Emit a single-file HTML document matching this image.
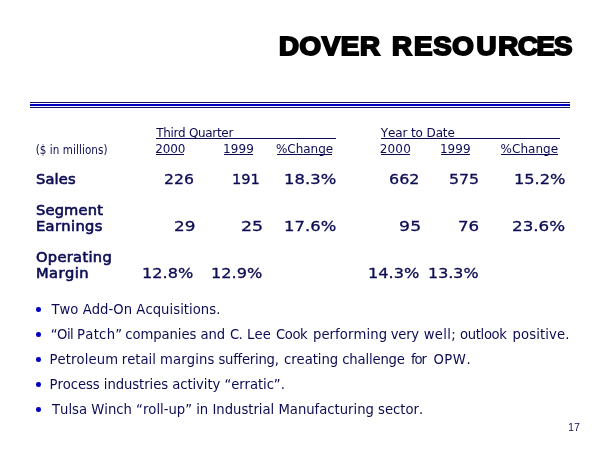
<!DOCTYPE html><html><head><meta charset="utf-8"><title>Dover Resources</title><style>
html,body{margin:0;padding:0;background:#fff}
#s{position:relative;width:600px;height:450px;overflow:hidden;background:#fff;color:#0c0c54}
#s .w span{position:absolute;top:0}
#s div{position:absolute;white-space:nowrap;line-height:1;font-kerning:none !important}
.t{font:700 25.4px/1 'Liberation Sans',sans-serif;color:#000;-webkit-text-stroke:1.9px #000;transform:scaleX(1.088);transform-origin:0 0;word-spacing:3px;letter-spacing:0.6px}
.u{height:1px;background:#0c0c54}
.k{width:4.6px;height:4.6px;border-radius:50%;background:#0000c0}
</style></head><body><div id="s">
<div class="t" id="title" style="left:278.85px;top:34px">DOVER R<span style="margin-left:1.3px">E</span>SO<span style="margin-left:1.8px">U</span><span style="margin-left:1.2px">R</span><span style="margin-left:-0.9px">C</span><span style="margin-left:-1.9px">E</span><span style="margin-left:-1.4px">S</span></div>
<div style="left:30px;top:102px;width:540px;height:1px;background:#14145c"></div>
<div style="left:30px;top:104px;width:540px;height:2px;background:#0000c0"></div>
<div style="left:30px;top:107px;width:540px;height:1px;background:#14145c"></div>
<div class="u" style="left:156px;top:138px;width:180px"></div>
<div class="u" style="left:381px;top:138px;width:179px"></div>
<div class="u" style="left:156px;top:154px;width:28px"></div>
<div class="u" style="left:224px;top:154px;width:29px"></div>
<div class="u" style="left:277px;top:154px;width:55px"></div>
<div class="u" style="left:381px;top:154px;width:29px"></div>
<div class="u" style="left:441px;top:154px;width:29px"></div>
<div class="u" style="left:501px;top:154px;width:57px"></div>
<div style="left:156.2px;top:126.7px;font:400 12px/1 'DejaVu Sans','Liberation Sans',sans-serif;letter-spacing:-0.32px">Third Quarter</div>
<div style="left:380.8px;top:126.7px;font:400 12px/1 'DejaVu Sans','Liberation Sans',sans-serif;letter-spacing:-0.12px">Year to Date</div>
<div style="left:35.7px;top:144.8px;font:400 11.5px/1 'DejaVu Sans Condensed','Liberation Sans',sans-serif;letter-spacing:0.09px">($ in millions)</div>
<div style="left:155.2px;top:143.2px;font:400 12px/1 'DejaVu Sans','Liberation Sans',sans-serif;letter-spacing:-0.15px">2000</div>
<div style="left:222.95px;top:143.2px;font:400 12px/1 'DejaVu Sans','Liberation Sans',sans-serif;letter-spacing:0.1px">1999</div>
<div style="left:275.95px;top:143.2px;font:400 12px/1 'DejaVu Sans','Liberation Sans',sans-serif;letter-spacing:-0.03px">%Change</div>
<div style="left:379.8px;top:143.2px;font:400 12px/1 'DejaVu Sans','Liberation Sans',sans-serif;letter-spacing:0.15px">2000</div>
<div style="left:439.95px;top:143.2px;font:400 12px/1 'DejaVu Sans','Liberation Sans',sans-serif;letter-spacing:0.03px">1999</div>
<div style="left:500.55px;top:143.2px;font:400 12px/1 'DejaVu Sans','Liberation Sans',sans-serif;letter-spacing:0.03px">%Change</div>
<div style="left:35.95px;top:172.8px;font:400 13.9px/1 'DejaVu Sans','Liberation Sans',sans-serif;letter-spacing:0.13px;-webkit-text-stroke:0.6px #0c0c54;transform:scaleX(1.055);transform-origin:0 0">Sales</div>
<div style="left:164.0px;top:172.05px;font:400 14.67px/1 'DejaVu Sans','Liberation Sans',sans-serif;letter-spacing:0.0px;-webkit-text-stroke:0.3px #0c0c54;transform:scaleX(1.067);transform-origin:0 0">226</div>
<div style="left:232.3px;top:172.05px;font:400 14.67px/1 'DejaVu Sans','Liberation Sans',sans-serif;letter-spacing:-0.03px;-webkit-text-stroke:0.3px #0c0c54;transform:scaleX(0.998);transform-origin:0 0">191</div>
<div style="left:283.55px;top:172.05px;font:400 14.67px/1 'DejaVu Sans','Liberation Sans',sans-serif;letter-spacing:0.04px;-webkit-text-stroke:0.3px #0c0c54;transform:scaleX(1.117);transform-origin:0 0">18.3%</div>
<div style="left:389.0px;top:172.05px;font:400 14.67px/1 'DejaVu Sans','Liberation Sans',sans-serif;letter-spacing:0.0px;-webkit-text-stroke:0.3px #0c0c54;transform:scaleX(1.087);transform-origin:0 0">662</div>
<div style="left:448.7px;top:172.05px;font:400 14.67px/1 'DejaVu Sans','Liberation Sans',sans-serif;letter-spacing:-0.09px;-webkit-text-stroke:0.3px #0c0c54;transform:scaleX(1.08);transform-origin:0 0">575</div>
<div style="left:513.5px;top:172.05px;font:400 14.67px/1 'DejaVu Sans','Liberation Sans',sans-serif;letter-spacing:-0.01px;-webkit-text-stroke:0.3px #0c0c54;transform:scaleX(1.106);transform-origin:0 0">15.2%</div>
<div style="left:35.55px;top:203.9px;font:400 13.9px/1 'DejaVu Sans','Liberation Sans',sans-serif;letter-spacing:0.15px;-webkit-text-stroke:0.6px #0c0c54;transform:scaleX(1.055);transform-origin:0 0">Segment</div>
<div style="left:35.8px;top:219.8px;font:400 13.9px/1 'DejaVu Sans','Liberation Sans',sans-serif;letter-spacing:0.34px;-webkit-text-stroke:0.6px #0c0c54;transform:scaleX(1.055);transform-origin:0 0">Earnings</div>
<div style="left:174.0px;top:219.15px;font:400 14.67px/1 'DejaVu Sans','Liberation Sans',sans-serif;letter-spacing:-0.04px;-webkit-text-stroke:0.3px #0c0c54;transform:scaleX(1.146);transform-origin:0 0">29</div>
<div style="left:240.7px;top:219.15px;font:400 14.67px/1 'DejaVu Sans','Liberation Sans',sans-serif;letter-spacing:-0.13px;-webkit-text-stroke:0.3px #0c0c54;transform:scaleX(1.188);transform-origin:0 0">25</div>
<div style="left:283.55px;top:219.15px;font:400 14.67px/1 'DejaVu Sans','Liberation Sans',sans-serif;letter-spacing:0.04px;-webkit-text-stroke:0.3px #0c0c54;transform:scaleX(1.117);transform-origin:0 0">17.6%</div>
<div style="left:399.0px;top:219.15px;font:400 14.67px/1 'DejaVu Sans','Liberation Sans',sans-serif;letter-spacing:0.17px;-webkit-text-stroke:0.3px #0c0c54;transform:scaleX(1.176);transform-origin:0 0">95</div>
<div style="left:458.45px;top:219.15px;font:400 14.67px/1 'DejaVu Sans','Liberation Sans',sans-serif;letter-spacing:0.0px;-webkit-text-stroke:0.3px #0c0c54;transform:scaleX(1.134);transform-origin:0 0">76</div>
<div style="left:511.8px;top:219.15px;font:400 14.67px/1 'DejaVu Sans','Liberation Sans',sans-serif;letter-spacing:-0.02px;-webkit-text-stroke:0.3px #0c0c54;transform:scaleX(1.142);transform-origin:0 0">23.6%</div>
<div style="left:35.8px;top:250.9px;font:400 13.9px/1 'DejaVu Sans','Liberation Sans',sans-serif;letter-spacing:0.29px;-webkit-text-stroke:0.6px #0c0c54;transform:scaleX(1.055);transform-origin:0 0">Operating</div>
<div style="left:35.8px;top:267.2px;font:400 13.9px/1 'DejaVu Sans','Liberation Sans',sans-serif;letter-spacing:0.41px;-webkit-text-stroke:0.6px #0c0c54;transform:scaleX(1.055);transform-origin:0 0">Margin</div>
<div style="left:142.4px;top:266.15px;font:400 14.67px/1 'DejaVu Sans','Liberation Sans',sans-serif;letter-spacing:0.0px;-webkit-text-stroke:0.3px #0c0c54;transform:scaleX(1.101);transform-origin:0 0">12.8%</div>
<div style="left:210.5px;top:266.15px;font:400 14.67px/1 'DejaVu Sans','Liberation Sans',sans-serif;letter-spacing:0.0px;-webkit-text-stroke:0.3px #0c0c54;transform:scaleX(1.101);transform-origin:0 0">12.9%</div>
<div style="left:367.5px;top:266.15px;font:400 14.67px/1 'DejaVu Sans','Liberation Sans',sans-serif;letter-spacing:0.0px;-webkit-text-stroke:0.3px #0c0c54;transform:scaleX(1.101);transform-origin:0 0">14.3%</div>
<div style="left:427.7px;top:266.15px;font:400 14.67px/1 'DejaVu Sans','Liberation Sans',sans-serif;letter-spacing:0.01px;-webkit-text-stroke:0.3px #0c0c54;transform:scaleX(1.085);transform-origin:0 0">13.3%</div>
<div style="left:51.4px;top:301.7px;font:400 14.67px/1 'DejaVu Sans Condensed','Liberation Sans',sans-serif;letter-spacing:0.04px">Two Add-On Acquisitions.</div>
<div class="w" style="left:0;top:326.7px;width:600px;height:14.67px;font:400 14.67px/1 'DejaVu Sans Condensed','Liberation Sans',sans-serif"><span style="left:50.75px;letter-spacing:-0.5px">“Oil</span> <span style="left:77.05px;letter-spacing:0.29px">Patch”</span> <span style="left:125.25px;letter-spacing:-0.06px">companies</span> <span style="left:200.55px;letter-spacing:-0.18px">and</span> <span style="left:230.05px;letter-spacing:-0.75px">C.</span> <span style="left:247.05px;letter-spacing:0.1px">Lee</span> <span style="left:275.95px;letter-spacing:-0.4px">Cook</span> <span style="left:312.95px;letter-spacing:0.09px">performing</span> <span style="left:390.8px;letter-spacing:-0.28px">very</span> <span style="left:423.7px;letter-spacing:0.31px">well;</span> <span style="left:460.05px;letter-spacing:-0.35px">outlook</span> <span style="left:512.45px;letter-spacing:0.13px">positive.</span></div>
<div class="w" style="left:0;top:351.7px;width:600px;height:14.67px;font:400 14.67px/1 'DejaVu Sans Condensed','Liberation Sans',sans-serif"><span style="left:49.45px;letter-spacing:0.13px">Petroleum</span> <span style="left:121.75px;letter-spacing:0.0px">retail</span> <span style="left:160.05px;letter-spacing:0.11px">margins</span> <span style="left:218.45px;letter-spacing:-0.24px">suffering,</span> <span style="left:283.95px;letter-spacing:-0.03px">creating</span> <span style="left:342.25px;letter-spacing:-0.16px">challenge</span> <span style="left:411.05px;letter-spacing:-1.18px">for</span> <span style="left:433.45px;letter-spacing:0.53px">OPW.</span></div>
<div style="left:49.55px;top:376.7px;font:400 14.67px/1 'DejaVu Sans Condensed','Liberation Sans',sans-serif;letter-spacing:-0.06px">Process industries activity “erratic”.</div>
<div style="left:52.0px;top:401.8px;font:400 14.67px/1 'DejaVu Sans Condensed','Liberation Sans',sans-serif;letter-spacing:0.0px">Tulsa Winch “roll-up” in Industrial Manufacturing sector.</div>
<div style="left:568.25px;top:422.6px;font:400 10px/1 'Liberation Sans',sans-serif;letter-spacing:0.35px">17</div>
<div class="k" style="left:36.0px;top:307.4px"></div>
<div class="k" style="left:36.0px;top:332.4px"></div>
<div class="k" style="left:36.0px;top:357.4px"></div>
<div class="k" style="left:36.0px;top:382.3px"></div>
<div class="k" style="left:36.0px;top:407.2px"></div>
</div></body></html>
